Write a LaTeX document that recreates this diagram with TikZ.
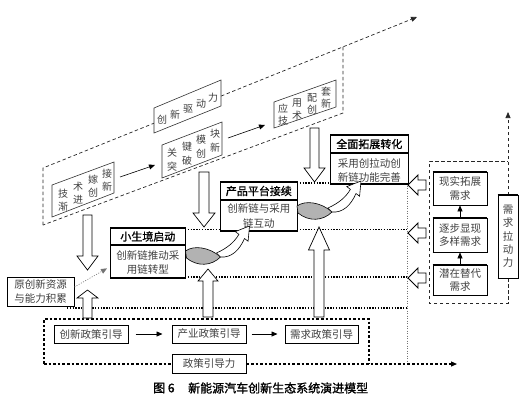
\documentclass[tikz,border=0pt]{standalone}
\usepackage{fontspec}
\setmainfont{Noto Sans CJK SC}
\newfontfamily\cjkbold[FakeBold=1.2]{Noto Sans CJK SC}
\usetikzlibrary{arrows.meta}
\newcommand\VArr[6]{\draw[blk] (#1-#2,#3) -- (#1-#2,#4) -- (#1-#5,#4) -- (#1,#6) -- (#1+#5,#4) -- (#1+#2,#4) -- (#1+#2,#3) -- cycle;}
\newcommand\HArr[1]{\draw[blk,line width=0.9pt] (408,#1) -- (418,#1-10) -- (418,#1-5) -- (426,#1-5) -- (426,#1+5) -- (418,#1+5) -- (418,#1+10) -- cycle;}
\tikzset{
 band/.style={draw=black!85, dash pattern=on 3.5pt off 2.5pt, line width=0.7pt},
 dotl/.style={draw=black, dash pattern=on 1.3pt off 1.5pt, line width=1.3pt},
 thindot/.style={draw=black!55, dash pattern=on 1pt off 1.5pt, line width=0.6pt},
 poldash/.style={draw=black, dash pattern=on 2.6pt off 2pt, line width=1.2pt},
 blk/.style={draw=black, fill=white, line width=0.7pt, line join=miter},
 tipa/.style={-{Triangle[length=6pt,width=5pt]}},
 txt/.style={font=\fontsize{10.5}{12}\selectfont, text=black!75, inner sep=0pt},
 ttl/.style={font=\cjkbold\fontsize{11}{13}\selectfont, text=black, inner sep=0pt},
 tilt/.style={font=\fontsize{10}{11}\selectfont, text=black!75, inner sep=0pt},
 tbox/.style={draw=black!80, fill=white, line width=0.6pt},
 mbox/.style={draw=black, line width=0.7pt, fill=white, inner sep=0pt, anchor=north west},
 thk/.style={line width=1.6pt},
 sepl/.style={line width=1.1pt},
 dbox/.style={draw=black, line width=0.8pt, fill=white, inner sep=0pt, align=center, font=\fontsize{10.5}{13.5}\selectfont, text=black!75},
 pbox/.style={draw=black, line width=1pt, fill=white, inner sep=0pt, minimum width=74pt, minimum height=18pt, font=\fontsize{10.5}{12}\selectfont, text=black!75},
 capt/.style={font=\cjkbold\fontsize{12}{14}\selectfont, inner sep=0pt, anchor=west},
 swoosh/.pic={
  \draw[line width=0.6pt, fill=black!30] (0,-3) .. controls (8,-9) and (24,-7) .. (35,3) .. controls (26,12) and (12,13) .. (1,4) -- cycle;
  \draw[line width=0.6pt, fill=white, line join=miter] (31,-1) .. controls (42,-6) and (49,-12) .. (53.4,-19.7) -- (49.8,-22.4) -- (64,-28) -- (62.6,-12.8) -- (59,-15.5) .. controls (54,-4) and (46,4) .. (35,3) -- cycle;
 }
}
\begin{document}
\begin{tikzpicture}[x=1pt,y=-1pt]
\useasboundingbox (0,0) rectangle (527,402);
\fill[white] (0,0) rectangle (527,402);
% innovation-drive band
\draw[band] (43,225) -- (43,168) -- (154,123.2);
\draw[band,tipa] (221,96.1) -- (417,17);
\draw[band] (343,46.9) -- (343,113) -- (43,225);
% tilted boxes
\draw[tbox] (154,108) -- (221,80) -- (221,106) -- (154,133) -- cycle;
\node[tilt] (q1) at (162,120) {创};
\node[tilt] (q2) at (175,114.5) {新};
\node[tilt] (q3) at (188,109) {驱};
\node[tilt] (q4) at (201,103.5) {动};
\node[tilt] (q5) at (213,98) {力};
\draw[tbox] (52,185) -- (114,162) -- (114,193) -- (52,217) -- cycle;
\node[tilt] (j1) at (63,194) {技};
\node[tilt] (j2) at (63,206.5) {渐};
\node[tilt] (j3) at (78,187) {术};
\node[tilt] (j4) at (78,200) {进};
\node[tilt] (j5) at (93,180) {嫁};
\node[tilt] (j6) at (93,193) {创};
\node[tilt] (j7) at (107,174) {接};
\node[tilt] (j8) at (107,187) {新};
\draw[tbox] (162,145) -- (222,122) -- (222,155) -- (162,178) -- cycle;
\node[tilt] (g1) at (172,153) {关};
\node[tilt] (g2) at (172,167) {突};
\node[tilt] (g3) at (187,147) {键};
\node[tilt] (g4) at (187,161) {破};
\node[tilt] (g5) at (201,140) {模};
\node[tilt] (g6) at (201,154) {创};
\node[tilt] (g7) at (215,134) {块};
\node[tilt] (g8) at (215,148) {新};
\draw[tbox] (274,102) -- (336,80) -- (336,107) -- (274,128) -- cycle;
\node[tilt] (y1) at (283,109) {应};
\node[tilt] (y2) at (283,121) {技};
\node[tilt] (y3) at (297,103.5) {用};
\node[tilt] (y4) at (297,115.5) {术};
\node[tilt] (y5) at (312,98) {配};
\node[tilt] (y6) at (312,110) {创};
\node[tilt] (y7) at (326,92) {套};
\node[tilt] (y8) at (326,104) {新};
\coordinate (a1s) at (120,177);
\coordinate (a1e) at (155,165);
\coordinate (a2s) at (228,138);
\coordinate (a2e) at (265,125);
\draw[tipa, line width=0.6pt] (a1s) -- (a1e);
\draw[tipa, line width=0.6pt] (a2s) -- (a2e);
% dotted stage lines
\draw[dotl] (185,229.5) -- (407,229.5);
\draw[dotl] (297,183) -- (330,183);
\draw[dotl] (185,277) -- (407,277);
\draw[dotl] (67,308) -- (407,308);
\draw[thindot] (407,183) -- (407,362);
% demand region
\draw[band] (508,278) -- (508,303) -- (429,303) -- (429,161) -- (508,161);
\draw[band,tipa] (508,195) -- (508,112);
% policy region
\draw[poldash] (44,364) -- (44,319) -- (369,319) -- (369,364);
\draw[poldash,tipa] (44,364) -- (457,364);
% main boxes
\node[mbox, minimum width=75pt, minimum height=49pt] (xsj) at (110,228) {};
\draw[thk] (xsj.north west) -- (xsj.north east);
\draw[thk] (xsj.south west) -- (xsj.south east);
\draw[sepl] ([yshift=-17pt]xsj.north west) -- ([yshift=-17pt]xsj.north east);
\node[ttl] (xsjT) at ([yshift=-8.5pt]xsj.north) {小生境启动};
\node[txt] (xsjA) at ([yshift=-27pt]xsj.north) {创新链推动采};
\node[txt] (xsjB) at ([yshift=-42pt]xsj.north) {用链转型};
\node[mbox, minimum width=77pt, minimum height=48pt] (cp) at (220,182) {};
\draw[thk] (cp.north west) -- (cp.north east);
\draw[thk] (cp.south west) -- (cp.south east);
\draw[sepl] ([yshift=-18pt]cp.north west) -- ([yshift=-18pt]cp.north east);
\node[ttl] (cpT) at ([yshift=-9pt]cp.north) {产品平台接续};
\node[txt] (cpA) at ([yshift=-27pt]cp.north) {创新链与采用};
\node[txt] (cpB) at ([yshift=-41pt]cp.north) {链互动};
\node[mbox, minimum width=78pt, minimum height=48pt] (qm) at (330,135) {};
\draw[thk] (qm.north west) -- (qm.north east);
\draw[thk] (qm.south west) -- (qm.south east);
\draw[sepl] ([yshift=-18pt]qm.north west) -- ([yshift=-18pt]qm.north east);
\node[ttl] (qmT) at ([yshift=-9pt]qm.north) {全面拓展转化};
\node[txt] (qmA) at ([yshift=-28pt]qm.north) {采用创拉动创};
\node[txt] (qmB) at ([yshift=-42pt]qm.north) {新链功能完善};
% demand boxes
\node[dbox, minimum width=54pt, minimum height=33pt] (d1) at (460,188.5) {现实拓展\\需求};
\node[dbox, minimum width=54pt, minimum height=34pt] (d2) at (460,235) {逐步显现\\多样需求};
\node[dbox, minimum width=54pt, minimum height=30pt] (d3) at (460,280) {潜在替代\\需求};
\foreach \b in {d1,d2,d3}{
 \draw[thk] (\b.north west) -- (\b.north east);
 \draw[thk] (\b.south west) -- (\b.south east);
}
\draw[tipa, line width=0.6pt] (d3.north) -- (d2.south);
\draw[tipa, line width=0.6pt] (d2.north) -- (d1.south);
\node[dbox, minimum width=20pt, minimum height=83pt, font=\fontsize{10.5}{13.3}\selectfont] (xq) at (508,236.5) {需\\求\\拉\\动\\力};
\draw[thk] (xq.north west) -- (xq.north east);
\draw[thk] (xq.south west) -- (xq.south east);
% policy boxes
\node[pbox] (p1) at (91,334) {创新政策引导};
\node[pbox] (p2) at (209,334) {产业政策引导};
\node[pbox, minimum width=73pt] (p3) at (321.5,334) {需求政策引导};
\node[pbox, minimum height=19pt] (p4) at (209,363.5) {政策引导力};
\draw[tipa, line width=0.8pt] ([xshift=7pt]p1.east) -- ([xshift=-9pt]p2.west);
\draw[tipa, line width=0.8pt] ([xshift=5pt]p2.east) -- ([xshift=-7pt]p3.west);
% original resources
\node[pbox, line width=0.8pt, minimum width=67pt, minimum height=29pt, align=center, font=\fontsize{10.5}{14}\selectfont] (yc) at (40.5,291.5) {原创新资源\\与能力积累};
\draw[thindot, -{Triangle[length=6pt,width=5pt]}] ([yshift=4.5pt]yc.east) -- ([xshift=-3pt,yshift=-15.5pt]xsj.west);
% block arrows
\VArr{87.5}{4.5}{215}{256}{10.5}{270}
\VArr{204}{5}{172}{213}{11}{227}
\VArr{314.5}{4.5}{128}{168}{10.5}{182}
\VArr{87.5}{4.5}{318}{298}{10.5}{290}
\VArr{208}{5}{317}{281}{10}{269}
\VArr{319}{5}{317}{250}{10.5}{227}
\HArr{185}
\HArr{233}
\HArr{278}
% swooshes
\pic (sw1) at (185.5,254) {swoosh};
\pic (sw2) at (297,209) {swoosh};
% caption
\node[capt] (cap1) at (153,388) {图 6};
\node[capt] (cap2) at (188,388) {新能源汽车创新生态系统演进模型};
\end{tikzpicture}
\end{document}
